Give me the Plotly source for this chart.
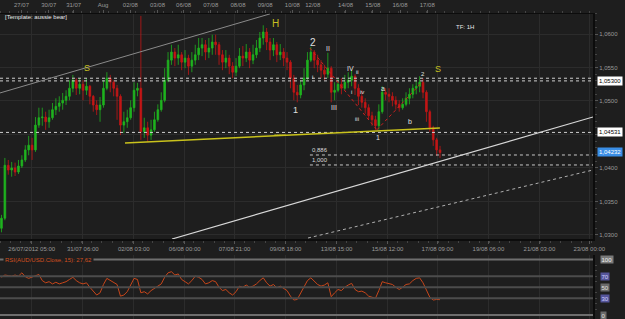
import plotly.graph_objects as go

# ---------------- data (AUD/USD, 3-hour candles, 26/07/2012 05:00 -> 17/08/2012 ~10:00) ----------------
first_open = 1.0310
close = [1.0325, 1.0404, 1.0397, 1.0400, 1.0394, 1.0403, 1.0412, 1.0427, 1.0434, 1.0427,
         1.0464, 1.0475, 1.0476, 1.0469, 1.0475, 1.0487, 1.0492, 1.0497, 1.0501, 1.0507,
         1.0519, 1.0531, 1.0519, 1.0525, 1.0516, 1.0522, 1.0507, 1.0494, 1.0487, 1.0494,
         1.0519, 1.0534, 1.0528, 1.0519, 1.0507, 1.0464, 1.0469, 1.0475, 1.0490, 1.0516,
         1.0519, 1.0454, 1.0460, 1.0449, 1.0457, 1.0472, 1.0487, 1.0501, 1.0531, 1.0561,
         1.0573, 1.0564, 1.0569, 1.0558, 1.0564, 1.0552, 1.0561, 1.0569, 1.0579, 1.0584,
         1.0573, 1.0579, 1.0588, 1.0584, 1.0569, 1.0558, 1.0564, 1.0552, 1.0543, 1.0552,
         1.0567, 1.0564, 1.0573, 1.0561, 1.0569, 1.0579, 1.0594, 1.0603, 1.0588, 1.0576,
         1.0584, 1.0569, 1.0573, 1.0564, 1.0558, 1.0534, 1.0513, 1.0509, 1.0524, 1.0534,
         1.0561, 1.0573, 1.0561, 1.0554, 1.0546, 1.0540, 1.0549, 1.0513, 1.0516, 1.0525,
         1.0519, 1.0528, 1.0531, 1.0537, 1.0519, 1.0507, 1.0498, 1.0490, 1.0478, 1.0472,
         1.0463, 1.0484, 1.0513, 1.0510, 1.0507, 1.0501, 1.0495, 1.0490, 1.0495, 1.0504,
         1.0510, 1.0519, 1.0522, 1.0528, 1.0513, 1.0484, 1.0460, 1.0442, 1.0427, 1.0423]
high = [1.0330, 1.0415, 1.0412, 1.0409, 1.0408, 1.0412, 1.0419, 1.0434, 1.0448, 1.0445,
        1.0476, 1.0490, 1.0490, 1.0484, 1.0487, 1.0497, 1.0504, 1.0507, 1.0512, 1.0516,
        1.0531, 1.0539, 1.0534, 1.0534, 1.0531, 1.0534, 1.0524, 1.0509, 1.0501, 1.0506,
        1.0531, 1.0543, 1.0539, 1.0531, 1.0524, 1.0510, 1.0484, 1.0487, 1.0501, 1.0528,
        1.0527, 1.0627, 1.0475, 1.0469, 1.0472, 1.0484, 1.0495, 1.0513, 1.0549, 1.0573,
        1.0584, 1.0579, 1.0584, 1.0573, 1.0576, 1.0569, 1.0573, 1.0584, 1.0594, 1.0594,
        1.0591, 1.0594, 1.0599, 1.0599, 1.0588, 1.0576, 1.0576, 1.0569, 1.0558, 1.0564,
        1.0579, 1.0582, 1.0585, 1.0579, 1.0584, 1.0591, 1.0603, 1.0613, 1.0609, 1.0594,
        1.0594, 1.0588, 1.0585, 1.0579, 1.0573, 1.0561, 1.0539, 1.0524, 1.0531, 1.0549,
        1.0573, 1.0581, 1.0576, 1.0569, 1.0561, 1.0554, 1.0572, 1.0552, 1.0528, 1.0534,
        1.0534, 1.0539, 1.0543, 1.0546, 1.0540, 1.0525, 1.0516, 1.0504, 1.0495, 1.0484,
        1.0478, 1.0495, 1.0522, 1.0519, 1.0519, 1.0513, 1.0507, 1.0501, 1.0504, 1.0513,
        1.0519, 1.0525, 1.0531, 1.0537, 1.0534, 1.0516, 1.0487, 1.0463, 1.0445, 1.0433]
low = [1.0304, 1.0322, 1.0390, 1.0387, 1.0388, 1.0391, 1.0400, 1.0409, 1.0419, 1.0412,
       1.0424, 1.0460, 1.0463, 1.0457, 1.0460, 1.0472, 1.0479, 1.0484, 1.0487, 1.0494,
       1.0501, 1.0513, 1.0509, 1.0510, 1.0501, 1.0509, 1.0495, 1.0484, 1.0479, 1.0469,
       1.0490, 1.0516, 1.0513, 1.0507, 1.0472, 1.0449, 1.0452, 1.0460, 1.0472, 1.0484,
       1.0507, 1.0442, 1.0445, 1.0439, 1.0442, 1.0454, 1.0469, 1.0484, 1.0498, 1.0528,
       1.0554, 1.0552, 1.0554, 1.0546, 1.0549, 1.0539, 1.0543, 1.0554, 1.0561, 1.0567,
       1.0561, 1.0564, 1.0569, 1.0569, 1.0554, 1.0546, 1.0549, 1.0540, 1.0534, 1.0537,
       1.0549, 1.0552, 1.0558, 1.0549, 1.0555, 1.0564, 1.0573, 1.0584, 1.0576, 1.0561,
       1.0567, 1.0558, 1.0561, 1.0552, 1.0546, 1.0519, 1.0501, 1.0498, 1.0504, 1.0516,
       1.0531, 1.0558, 1.0549, 1.0543, 1.0534, 1.0531, 1.0534, 1.0498, 1.0501, 1.0513,
       1.0510, 1.0516, 1.0519, 1.0522, 1.0509, 1.0494, 1.0490, 1.0481, 1.0472, 1.0463,
       1.0457, 1.0457, 1.0481, 1.0501, 1.0498, 1.0492, 1.0487, 1.0484, 1.0487, 1.0492,
       1.0495, 1.0504, 1.0510, 1.0513, 1.0504, 1.0469, 1.0454, 1.0433, 1.0418, 1.0415]
rsi = [68, 72, 71, 70, 72, 70, 76, 69, 66, 68,
       70, 73, 62, 58, 60, 56, 59, 56, 58, 60,
       64, 68, 62, 58, 56, 58, 50, 42, 36, 40,
       55, 66, 62, 58, 55, 34, 36, 42, 55, 66,
       64, 40, 42, 38, 44, 48, 52, 56, 68, 76,
       78, 72, 74, 64, 60, 56, 62, 70, 68, 64,
       56, 58, 62, 60, 50, 44, 46, 40, 36, 42,
       52, 50, 54, 50, 52, 56, 62, 67, 58, 52,
       55, 49, 52, 48, 44, 34, 27, 28, 40, 52,
       62, 67, 60, 55, 52, 54, 58, 33, 40, 46,
       44, 50, 54, 57, 46, 42, 43, 40, 34, 32,
       30, 44, 60, 58, 57, 55, 50, 46, 50, 55,
       56, 62, 66, 67, 58, 45, 32, 27, 28, 27.62]
open_ = [first_open] + close[:-1]
bar_hour = [3 * k + 1.3 for k in range(len(close))]   # trading-hour index of each candle

bottom_vals = [28, 73, 118, 163, 207, 252, 297, 342, 386, 431, 476, 520]
bottom_text = ["26/07/2012 05:00", "31/07 06:00", "02/08 03:00", "06/08 00:00", "07/08 21:00",
               "09/08 18:00", "13/08 15:00", "15/08 12:00", "17/08 09:00", "19/08 06:00",
               "21/08 03:00", "23/08 00:00"]
top_vals = [19, 43, 65, 91, 115, 139, 162, 186, 210, 234, 258, 276, 305, 329, 353, 377]
top_text = ["27/07", "30/07", "31/07", "Aug", "02/08", "03/08", "06/08", "07/08", "08/08",
            "09/08", "10/08", "12/08", "14/08", "15/08", "16/08", "17/08"]
price_ticks = [1.0300, 1.0350, 1.0400, 1.0450, 1.0500, 1.0550, 1.0600]
price_text = ["1,0300", "1,0350", "1,0400", "", "1,0500", "1,0550", "1,0600"]  # 1,0450 hidden under price box

# ---------------- style ----------------
BG = "#1e1e1e"
GRID = "#2c2c2c"
UP = "#1fb41f"
DOWN = "#c41616"
FONT = "Liberation Sans"
X_RANGE = [0, 523.3]
XD = 593 / 625
Y_RANGE = [1.02940, 1.06306]

fig = go.Figure()
fig.add_trace(go.Candlestick(
    x=bar_hour, open=open_, high=high, low=low, close=close,
    increasing=dict(line=dict(color=UP, width=0.8), fillcolor=UP),
    decreasing=dict(line=dict(color=DOWN, width=0.8), fillcolor=DOWN),
    whiskerwidth=0, xaxis="x", yaxis="y", showlegend=False, hoverinfo="skip"))
fig.add_trace(go.Scatter(x=[bar_hour[0]], y=[close[0]], xaxis="x3", yaxis="y", mode="markers",
                         marker=dict(opacity=0), showlegend=False, hoverinfo="skip"))
fig.add_trace(go.Scatter(x=bar_hour, y=rsi, xaxis="x2", yaxis="y2", mode="lines",
                         line=dict(color="#c8461a", width=1), showlegend=False, hoverinfo="skip"))

shapes = []
def seg(x0, y0, x1, y1, color, width=1, dash="solid", xref="x", yref="y"):
    shapes.append(dict(type="line", xref=xref, yref=yref, x0=x0, y0=y0, x1=x1, y1=y1,
                       line=dict(color=color, width=width, dash=dash), layer="above"))

# horizontal dotted levels
seg(0, 1.0534, 1, 1.0534, "#d0d0d0", 1, "dot", xref="x domain")
seg(0, 1.0530, 1, 1.0530, "#d0d0d0", 1, "dot", xref="x domain")
seg(0, 1.04531, 1, 1.04531, "#d0d0d0", 1, "dot", xref="x domain")
seg(273.5, 1.04194, 523.3, 1.04194, "#c8c8c8", 1, "dot")
seg(273.5, 1.04045, 523.3, 1.04045, "#c8c8c8", 1, "dot")
# channel lines
seg(0, 1.0512, 238.2, 1.0630, "#8a8a8a", 1)
seg(151.8, 1.0294, 523.3, 1.04761, "#d8d8d8", 1.2)
seg(271.8, 1.02955, 523.3, 1.0397, "#b0b0b0", 1, "dot")
# yellow neckline
seg(110.3, 1.04373, 388.2, 1.04597, "#c9c21c", 1.5)
# red wave zigzag
seg(273.5, 1.0579, 332.6, 1.0457, "#d02020", 1, "dot")
seg(332.6, 1.0457, 372.4, 1.0528, "#d02020", 1, "dot")
# RSI levels
for lvl, col in [(100, "#6e6e6e"), (70, "#4c4c4c"), (50, "#4c4c4c"), (30, "#4c4c4c"), (0, "#6e6e6e")]:
    seg(0, lvl, 1, lvl, col, 2, xref="x2 domain", yref="y2")

ann = []
def txt(x, y, s, size=6, color="#e0e0e0", xref="x", yref="y", xanchor="center", yanchor="middle", **kw):
    ann.append(dict(x=x, y=y, text=s, xref=xref, yref=yref, showarrow=False, xanchor=xanchor,
                    yanchor=yanchor, font=dict(family=FONT, size=size, color=color), **kw))

YEL = "#c8c020"
txt(76.8, 1.0549, "S", 9, YEL)
txt(243.5, 1.0615, "H", 10, YEL)
txt(386.5, 1.0548, "S", 9, YEL)
txt(276.2, 1.0588, "2", 10)
txt(289.4, 1.0579, "II", 7)
txt(261.2, 1.0487, "1", 9)
txt(276.2, 1.0536, "i", 6)
txt(309.7, 1.0548, "IV", 7)
txt(315.9, 1.0543, "ii", 6)
txt(294.7, 1.0490, "III", 7)
txt(310.6, 1.0513, "i", 6)
txt(319.4, 1.0513, "iv", 6)
txt(315.0, 1.0473, "iii", 6)
txt(333.5, 1.0446, "1", 7)
txt(338.0, 1.0519, "a", 7)
txt(361.8, 1.0469, "b", 7)
txt(373.2, 1.0540, "2", 6)
txt(247.0, 1.0448, "******", 5, YEL)
txt(273.5, 1.04194, "0,886", 6, "#d8d8d8", xanchor="left", yanchor="bottom")
txt(273.5, 1.04045, "1,000", 6, "#d8d8d8", xanchor="left", yanchor="bottom")
txt(3 / 625, 1 - 17 / 319, "[Template: aussie bear]", 6, "#e8e8e8", xref="paper", yref="paper", xanchor="left")
txt(465 / 625, 1 - 27 / 319, "TF: 1H", 6, "#e8e8e8", xref="paper", yref="paper")
txt(3 / 625, 100, "RSI(AUD/USD.Close, 15): 27,62", 6, "#d2501e", xref="paper", yref="y2",
    xanchor="left", bgcolor=BG)
# price boxes on right axis
txt(597 / 625, 1.0530, "1,05300", 6, "#000000", xref="paper", xanchor="left", bgcolor="#ffffff", borderpad=1)
txt(597 / 625, 1.04531, "1,04531", 6, "#000000", xref="paper", xanchor="left", bgcolor="#ffffff", borderpad=1)
txt(597 / 625, 1.04232, "1,04232", 6, "#ffffff", xref="paper", xanchor="left", bgcolor="#3a8ee6", borderpad=1)
# RSI scale boxes
for lvl, bg, fc in [(100, "#7a7a7a", "#f0f0f0"), (70, "#55559a", "#d0d0ff"), (50, "#6a6a6a", "#e0e0e0"),
                    (30, "#55559a", "#d0d0ff"), (0, "#6a6a6a", "#e0e0e0")]:
    txt(600 / 625, lvl, str(lvl), 6, fc, xref="paper", yref="y2", xanchor="left", bgcolor=bg, borderpad=0.5)

axfont = dict(family=FONT, size=6, color="#9a9a9a")
fig.update_layout(
    width=625, height=319, margin=dict(l=0, r=0, t=0, b=0, autoexpand=False),
    paper_bgcolor=BG, plot_bgcolor=BG, showlegend=False, font=axfont,
    xaxis=dict(domain=[0, XD], range=X_RANGE, anchor="y", rangeslider=dict(visible=False),
               automargin=False,
               tickmode="array", tickvals=bottom_vals, ticktext=bottom_text, ticks="outside",
               ticklen=3, tickcolor="#555555", showgrid=True, gridcolor=GRID, zeroline=False,
               showline=True, linecolor="#0c0c0c", linewidth=2, tickfont=axfont,
               minor=dict(tickmode="linear", tick0=0, dtick=9, ticks="outside", ticklen=2,
                          tickcolor="#444444", showgrid=False)),
    xaxis3=dict(overlaying="x", anchor="y", side="top", range=X_RANGE, tickmode="array",
                automargin=False,
                tickvals=top_vals, ticktext=top_text, ticks="outside", ticklen=3, tickcolor="#555555",
                showgrid=False, zeroline=False, showline=True, linecolor="#0c0c0c", tickfont=axfont,
                minor=dict(tickmode="linear", tick0=0, dtick=8, ticks="outside", ticklen=2,
                           tickcolor="#444444", showgrid=False)),
    yaxis=dict(domain=[1 - 239 / 319, 1 - 13.5 / 319], range=Y_RANGE, side="right", anchor="x",
               automargin=False,
               tickmode="array", tickvals=price_ticks, ticktext=price_text, ticks="outside",
               ticklen=3, tickcolor="#555555", showgrid=True, gridcolor=GRID, zeroline=False,
               showline=True, linecolor="#0c0c0c", linewidth=2, tickfont=axfont,
               minor=dict(tickmode="linear", tick0=1.0, dtick=0.001, ticks="outside", ticklen=2,
                          tickcolor="#444444", showgrid=False)),
    xaxis2=dict(domain=[0, XD], range=X_RANGE, anchor="y2", tickmode="array", tickvals=bottom_vals,
                automargin=False,
                showticklabels=False, showgrid=True, gridcolor=GRID, zeroline=False, showline=False),
    yaxis2=dict(domain=[0, 1 - 255 / 319], range=[-7.2, 108.1], side="right", anchor="x2",
                automargin=False,
                showticklabels=False, showgrid=False, zeroline=False, showline=True,
                linecolor="#0c0c0c", linewidth=2,
                minor=dict(tickmode="linear", tick0=0, dtick=10, ticks="outside", ticklen=2,
                           tickcolor="#444444")),
    shapes=shapes, annotations=ann,
)

fig.write_html("out.html")
